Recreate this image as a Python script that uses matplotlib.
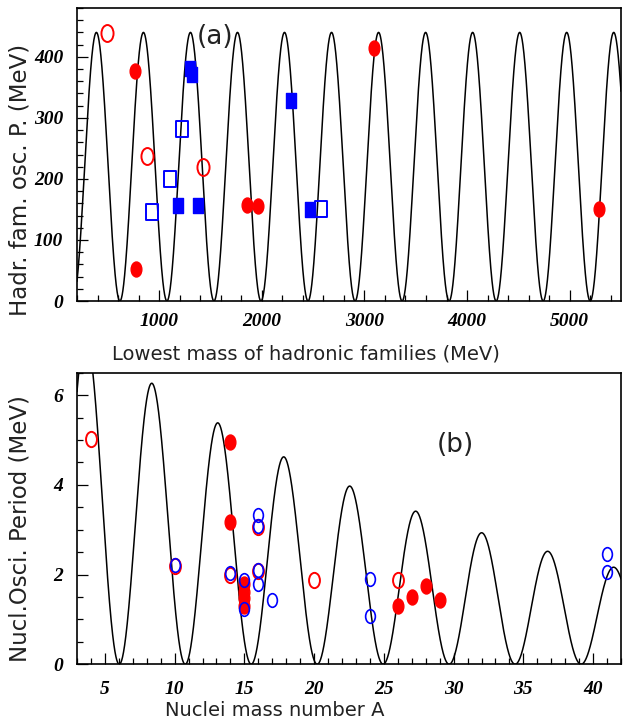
import numpy as np
import matplotlib
matplotlib.use("Agg")
import matplotlib.pyplot as plt
from matplotlib.path import Path
import matplotlib.ticker as ticker

# ── Data: (a) hadronic families ───────────────────────────────────────────────
had_red_open_m = [495, 885, 1423]
had_red_open_p = [439, 238, 220]
had_red_fill_m = [765, 775, 1860, 1964, 3095, 5281]
had_red_fill_p = [376, 53, 157, 156, 414, 150]
had_blue_open_m = [935, 1110, 1226, 2575]
had_blue_open_p = [146, 200, 282, 151]
had_blue_fill_m = [1188, 1300, 1318, 1382, 2283, 2471]
had_blue_fill_p = [157, 382, 372, 157, 330, 151]

# fitted oscillation (a): amplitude, first minimum, period
had_amp = 440.0
had_m0 = 618.0
had_period = 458.2

# ── Data: (b) nuclei ──────────────────────────────────────────────────────────
nuc_red_open_a = [4, 10, 14, 16, 16, 20, 26]
nuc_red_open_p = [5.02, 2.20, 1.98, 3.07, 2.08, 1.87, 1.87]
nuc_blue_open_a = [10, 14, 15, 15, 16, 16, 16, 16, 17, 24, 24, 41, 41]
nuc_blue_open_p = [2.22, 2.04, 1.89, 1.24, 3.33, 3.09, 2.10, 1.80, 1.43, 1.91, 1.08, 2.45, 2.06]
nuc_red_fill_a = [14, 14, 15, 15, 15, 15, 26, 27, 28, 29]
nuc_red_fill_p = [4.95, 3.17, 1.80, 1.62, 1.48, 1.30, 1.30, 1.50, 1.75, 1.43]

# fitted damped oscillation (b)
nuc_peak = 6.26      # height of first full peak
nuc_peak_a = 8.4
nuc_decay = 0.0321
nuc_a0 = 6.03        # first minimum
nuc_period = 4.73

# ── Style ─────────────────────────────────────────────────────────────────────
label_font = ["DejaVu Sans"]
tick_font = dict(family="Liberation Serif", weight="bold", style="italic", size=14)

# markers are vertically stretched in the original
circ = Path.unit_circle()
ellipse = Path(circ.vertices * [1.0, 1.4], circ.codes)
rect = Path([(-1, -1.4), (1, -1.4), (1, 1.4), (-1, 1.4), (-1, -1.4)],
            [Path.MOVETO, Path.LINETO, Path.LINETO, Path.LINETO, Path.CLOSEPOLY])

W, H = 626, 721
fig = plt.figure(figsize=(W / 100, H / 100), dpi=100)
ax1 = fig.add_axes([77 / W, 1 - 301 / H, 544 / W, 293 / H])
ax2 = fig.add_axes([77 / W, 1 - 664.3 / H, 544 / W, 291.6 / H])

# ── Panel (a) ─────────────────────────────────────────────────────────────────
m = np.linspace(200, 5500, 4000)
ax1.plot(m, had_amp * (1 - np.cos(2 * np.pi * (m - had_m0) / had_period)) / 2,
         color="black", lw=1.1, zorder=2)
ax1.plot(had_red_fill_m, had_red_fill_p, ls="none", marker=ellipse, ms=10.8,
         mfc="red", mec="red", zorder=3)
ax1.plot(had_blue_fill_m, had_blue_fill_p, ls="none", marker=rect, ms=10.8,
         mfc="blue", mec="blue", zorder=3)
ax1.plot(had_red_open_m, had_red_open_p, ls="none", marker=ellipse, ms=12.2,
         mfc="none", mec="red", mew=1.4, zorder=4)
ax1.plot(had_blue_open_m, had_blue_open_p, ls="none", marker=rect, ms=12.2,
         mfc="none", mec="blue", mew=1.4, zorder=4)
ax1.set_xlim(200, 5500)
ax1.set_ylim(0, 480)
ax1.xaxis.set_major_locator(ticker.MultipleLocator(1000))
ax1.xaxis.set_minor_locator(ticker.MultipleLocator(200))
ax1.yaxis.set_major_locator(ticker.FixedLocator([0, 100, 200, 300, 400]))
ax1.yaxis.set_minor_locator(ticker.MultipleLocator(20))
fig.text(215 / W, 1 - 37 / H, "(a)", ha="center", va="center",
         family=label_font, fontsize=19, color="#222222")

# ── Panel (b) ─────────────────────────────────────────────────────────────────
a = np.linspace(3, 42, 4000)
env = nuc_peak * np.exp(-nuc_decay * (a - nuc_peak_a))
ax2.plot(a, env * (1 - np.cos(2 * np.pi * (a - nuc_a0) / nuc_period)) / 2,
         color="black", lw=1.1, zorder=2)
ax2.plot(nuc_red_fill_a, nuc_red_fill_p, ls="none", marker=ellipse, ms=10.8,
         mfc="red", mec="red", zorder=3)
ax2.plot(nuc_red_open_a, nuc_red_open_p, ls="none", marker=ellipse, ms=11.0,
         mfc="none", mec="red", mew=1.4, zorder=4)
ax2.plot(nuc_blue_open_a, nuc_blue_open_p, ls="none", marker=ellipse, ms=9.8,
         mfc="none", mec="blue", mew=1.2, zorder=5)
ax2.set_xlim(3, 42)
ax2.set_ylim(0, 6.5)
ax2.xaxis.set_major_locator(ticker.MultipleLocator(5))
ax2.xaxis.set_minor_locator(ticker.MultipleLocator(1))
ax2.yaxis.set_major_locator(ticker.MultipleLocator(2))
ax2.yaxis.set_minor_locator(ticker.MultipleLocator(0.5))
fig.text(455 / W, 1 - 445 / H, "(b)", ha="center", va="center",
         family=label_font, fontsize=19, color="#222222")

for ax, xpad in [(ax1, 9), (ax2, 12)]:
    for s in ax.spines.values():
        s.set_linewidth(1.2)
    ax.tick_params(which="both", direction="in", top=False, right=False, width=0.9)
    ax.tick_params(which="major", length=8)
    ax.tick_params(which="minor", length=4.5)
    ax.tick_params(axis="x", which="major", pad=xpad)
    ax.tick_params(axis="y", which="major", pad=10)
    for lab in ax.get_xticklabels() + ax.get_yticklabels():
        lab.set(**tick_font)

# ── Axis titles ───────────────────────────────────────────────────────────────
txt = dict(family=label_font, color="#222222", ha="center", va="center")
fig.text(306 / W, 1 - 354 / H, "Lowest mass of hadronic families (MeV)", fontsize=14, **txt)
fig.text(20 / W, 1 - 180 / H, "Hadr. fam. osc. P. (MeV)", rotation=90, fontsize=16.5, **txt)
fig.text(275 / W, 1 - 710 / H, "Nuclei mass number A", fontsize=14, **txt)
fig.text(20 / W, 1 - 529 / H, "Nucl.Osci. Period (MeV)", rotation=90, fontsize=16.5, **txt)

fig.savefig("out.png", dpi=100)
